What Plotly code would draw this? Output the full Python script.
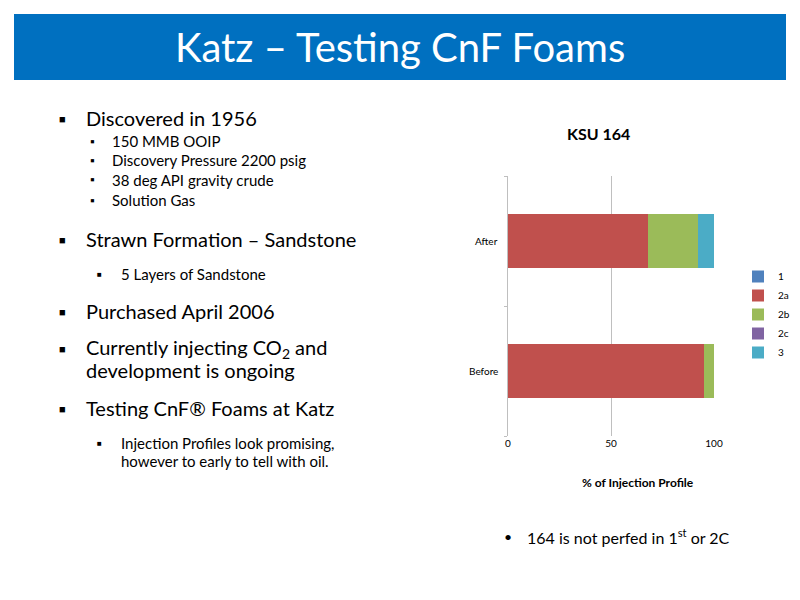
import plotly.graph_objects as go

categories = ["Before", "After"]
series = ["1", "2a", "2b", "2c", "3"]
values = {
    "1": [0, 0],
    "2a": [95, 68],
    "2b": [5, 24],
    "2c": [0, 0],
    "3": [0, 8],
}
colors = {"1": "#4F81BD", "2a": "#C0504D", "2b": "#9BBB59", "2c": "#8064A2", "3": "#4BACC6"}
xticks = [0, 50, 100]

W, H = 800, 600
FONT = "Lato"
OFF = 8
fig = go.Figure()
for s in series:
    fig.add_trace(go.Bar(y=categories, x=values[s], name=s, orientation="h",
                         marker=dict(color=colors[s], line=dict(width=0)), width=0.41))

def px(x): return (x - OFF) / W
def py(y): return 1 - (y - OFF) / H

fig.update_layout(
    width=W, height=H, barmode="stack", paper_bgcolor="white", plot_bgcolor="white",
    margin=dict(l=0, r=0, t=0, b=0, pad=0, autoexpand=False), font=dict(family=FONT, color="black"),
    xaxis=dict(domain=[px(508), px(714)], range=[0, 100], tickvals=xticks,
               showgrid=True, gridcolor="#BFBFBF", zeroline=False, showline=False,
               ticks="", tickfont=dict(size=10, family=FONT), automargin=False),
    yaxis=dict(domain=[py(436), py(176)], range=[-0.5, 1.5], showgrid=False,
               showline=True, linecolor="#BFBFBF", ticks="outside", tickcolor="#BFBFBF",
               ticklen=3, tickvals=[-0.5, 0.5, 1.5], ticktext=["", "", ""],
               zeroline=False, automargin=False),
    legend=dict(x=px(738), y=py(262), xanchor="left", yanchor="top", traceorder="normal",
                font=dict(size=10, family=FONT), itemwidth=30, tracegroupgap=0,
                bgcolor="rgba(0,0,0,0)"),
    showlegend=True,
)
fig.add_shape(type="rect", xref="paper", yref="paper", x0=px(14), x1=px(786),
              y0=py(80), y1=py(14), fillcolor="#0070C0", line=dict(width=0), layer="below")

ann = []
def t(x, y, s, size, bold=False, anchor="left", color="black"):
    ann.append(dict(x=px(x), y=py(y), xref="paper", yref="paper", text=("<b>%s</b>" % s if bold else s),
                    showarrow=False, xanchor=anchor, yanchor="middle",
                    font=dict(size=size, family=FONT, color=color)))

t(400, 47, "Katz – Testing CnF Foams", 40, anchor="center", color="white")
t(598, 134, "KSU 164", 16, bold=True, anchor="center")
t(638, 482, "% of Injection Profile", 12, bold=True, anchor="center")
for c, y in [("After", 241), ("Before", 371)]:
    t(500, y, c, 10, anchor="right")

big = [(118, "Discovered in 1956"), (239, "Strawn Formation – Sandstone"),
       (311, "Purchased April 2006"), (348, "Currently injecting CO<sub>2</sub> and"),
       (408, "Testing CnF® Foams at Katz")]
for y, s in big:
    t(57, y, "■", 11)
    t(84, y, s, 20)
t(84, 370, "development is ongoing", 20)
for y, s in [(141, "150 MMB OOIP"), (160, "Discovery Pressure 2200 psig"),
             (180, "38 deg API gravity crude"), (200, "Solution Gas")]:
    t(88, y, "▪", 12)
    t(110, y, s, 15)
t(95, 274, "■", 8)
t(119, 274, "5 Layers of Sandstone", 15)
t(95, 443, "■", 8)
t(119, 443, "Injection Profiles look promising,", 15)
t(119, 461, "however to early to tell with oil.", 15)
t(502, 536, "•", 14)
t(525, 536, "164 is not perfed in 1<sup>st</sup> or 2C", 16)

fig.update_layout(annotations=ann)
fig.write_html("out.html")
